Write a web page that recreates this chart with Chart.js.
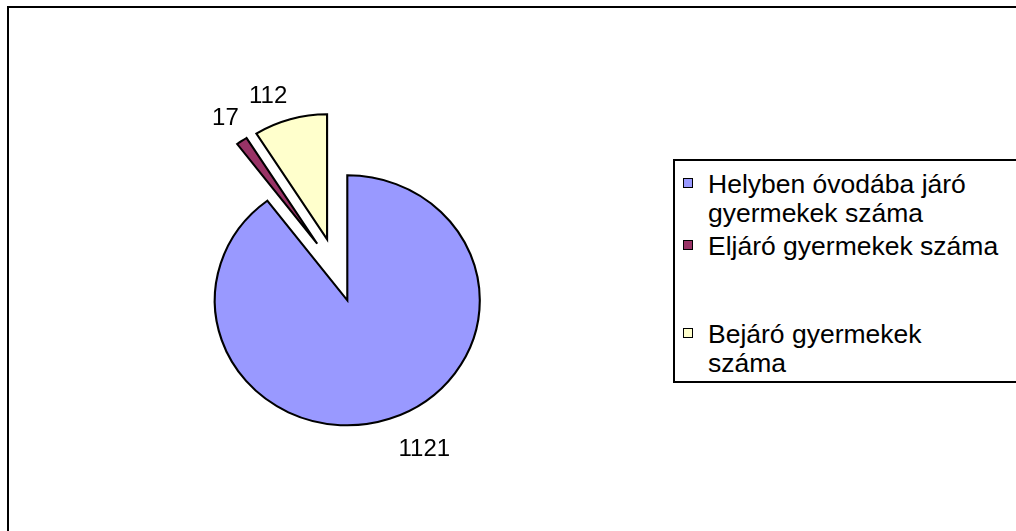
<!DOCTYPE html>
<html>
<head>
<meta charset="utf-8">
<script src="https://cdn.jsdelivr.net/npm/chart.js@4/dist/chart.umd.min.js"></script>
<style>
  html, body { margin: 0; padding: 0; background: #fff; overflow: hidden; }
  #wrap { position: relative; width: 1016px; height: 531px; overflow: hidden; font-family: "Liberation Sans", Arial, sans-serif; }
  #frame { position: absolute; left: 7px; top: 6px; width: 1100px; height: 600px; border: 2px solid #000; }
  #pie { position: absolute; left: 0; top: 0; }
  #legend { position: absolute; left: 673px; top: 159px; width: 400px; height: 220px; border: 2px solid #000; background: #fff; }
  .item { position: absolute; left: 33px; font-size: 26.5px; line-height: 29px; color: #000; white-space: nowrap; }
  .box { position: absolute; left: -25px; top: 8px; width: 8px; height: 8px; border: 1px solid #000; }
</style>
</head>
<body>
<div id="wrap">
  <div id="frame"></div>
  <canvas id="pie" width="1016" height="531"></canvas>
  <div id="legend"></div>
</div>
<script>
// data
const categories = ['Helyben óvodába járó gyermekek száma', 'Eljáró gyermekek száma', 'Bejáró gyermekek száma']
const legendLines = [['Helyben óvodába járó', 'gyermekek száma'], ['Eljáró gyermekek száma'], ['Bejáró gyermekek', 'száma']]
const values = [1121, 17, 112]
const colors = ['#9999FF', '#993366', '#FFFFCC']

const explode = 32 // px every slice is pulled out
const stretchX = 1.06 // pie is a bit wider than tall in the original

// draw the arcs ourselves so each one can be pulled out without growing
// (chart.js 'offset' also makes the radius bigger)
const explodePlugin = {
  id: 'explode',
  beforeDatasetDraw(chart, args) {
    const meta = chart.getDatasetMeta(args.index)
    const ctx = chart.ctx
    const cx = meta.data[0].x
    const cy = meta.data[0].y
    ctx.save()
    ctx.translate(cx, cy)
    ctx.scale(stretchX, 1)
    ctx.translate(-cx, -cy)
    meta.data.forEach(arc => {
      const mid = (arc.startAngle + arc.endAngle) / 2
      ctx.save()
      ctx.translate(Math.cos(mid) * explode, Math.sin(mid) * explode)
      arc.draw(ctx)
      ctx.restore()
    })
    ctx.restore()
    return false
  }
}

const valueLabels = {
  id: 'valueLabels',
  afterDraw(chart) {
    const ctx = chart.ctx
    const size = 24
    ctx.save()
    ctx.font = size + 'px "Liberation Sans", Arial, sans-serif'
    ctx.fillStyle = '#000'
    ctx.textBaseline = 'alphabetic'
    chart.getDatasetMeta(0).data.forEach((arc, i) => {
      const mid = (arc.startAngle + arc.endAngle) / 2
      const cos = Math.cos(mid)
      const sin = Math.sin(mid)
      const r = explode + arc.outerRadius
      const px = arc.x + stretchX * r * cos
      const py = arc.y + r * sin
      ctx.textAlign = cos >= 0 ? 'left' : 'right'
      const x = px + (cos >= 0 ? 9 : -3)
      const y = sin >= 0 ? py + 20 + size * 0.716 : py - 16
      ctx.fillText(String(values[i]), x, y)
    })
    ctx.restore()
  }
}

const pieChart = new Chart(document.getElementById('pie'), {
  type: 'pie',
  data: {
    labels: categories,
    datasets: [{
      data: values,
      backgroundColor: colors,
      borderColor: '#000',
      borderWidth: 2,
      borderJoinStyle: 'miter'
    }]
  },
  options: {
    responsive: false,
    animation: false,
    devicePixelRatio: 1,
    radius: 125,
    layout: { padding: { left: 0, right: 343, top: 9, bottom: 0 } },
    plugins: {
      legend: { display: false },
      tooltip: { enabled: false }
    }
  },
  plugins: [explodePlugin, valueLabels]
})

// legend (Excel style box on the right)
const legendTops = [9, 71, 159]
const legend = document.getElementById('legend')
legendLines.forEach((lines, i) => {
  const item = document.createElement('div')
  item.className = 'item'
  item.style.top = legendTops[i] + 'px'
  item.innerHTML = '<span class="box" style="background:' + colors[i] + '"></span>' + lines.join('<br>')
  legend.appendChild(item)
})
</script>
</body>
</html>
